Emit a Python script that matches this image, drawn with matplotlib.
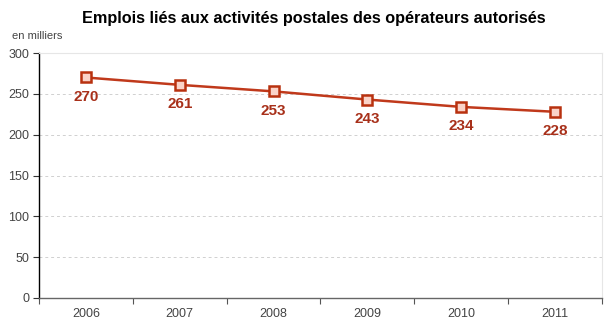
import matplotlib
matplotlib.use("Agg")
import matplotlib.pyplot as plt
import numpy as np

years = ["2006", "2007", "2008", "2009", "2010", "2011"]
values = [270, 261, 253, 243, 234, 228]
yticks = [0, 50, 100, 150, 200, 250, 300]

plt.rcParams['font.family'] = ['Liberation Sans', 'DejaVu Sans']

fig = plt.figure(figsize=(6.15, 3.23), dpi=100)
ax = fig.add_axes([39/615, 1-298/323, (602-39)/615, (298-53)/323])

x = np.arange(len(years)) + 0.5
line_col = '#C0391B'
ax.plot(x, values, color=line_col, lw=1.8, marker='s', ms=7,
        mfc='#FAD3C8', mec='#B8310F', mew=1.8, zorder=3)
for xi, v in zip(x, values):
    ax.annotate(str(v), (xi, v), xytext=(0, -9), textcoords='offset points',
                ha='center', va='top', fontsize=11, fontweight='bold', color='#A8301A')

ax.set_xlim(0, len(years))
ax.set_ylim(0, 300)
ax.set_yticks(yticks)
ax.set_yticklabels([str(t) for t in yticks], fontsize=9, color='#444444')
ax.set_xticks(np.arange(len(years) + 1))
ax.set_xticklabels([])
ax.set_xticks(x, minor=True)
ax.set_xticklabels(years, minor=True, fontsize=9, color='#444444')
ax.tick_params(axis='x', which='major', length=4, color='#555555', direction='out')
ax.tick_params(axis='x', which='minor', length=0, pad=7)
ax.tick_params(axis='y', length=4, color='#333333', pad=3)

for t in yticks[1:-1]:
    ax.axhline(t, color='#D0D0D0', lw=0.7, ls=(0, (3, 3)), zorder=1)

ax.spines['left'].set_color('#000000')
ax.spines['left'].set_linewidth(1.0)
ax.spines['bottom'].set_color('#666666')
ax.spines['bottom'].set_linewidth(1.0)
ax.spines['top'].set_color('#E6E6E6')
ax.spines['right'].set_color('#E6E6E6')

fig.text(314/615, 1-19/323, "Emplois liés aux activités postales des opérateurs autorisés",
         ha='center', va='center', fontsize=11.7, fontweight='bold', color='#000000')
fig.text(12/615, 1-36/323, "en milliers", ha='left', va='center', fontsize=8, color='#444444')

fig.savefig('out.png', dpi=100)
